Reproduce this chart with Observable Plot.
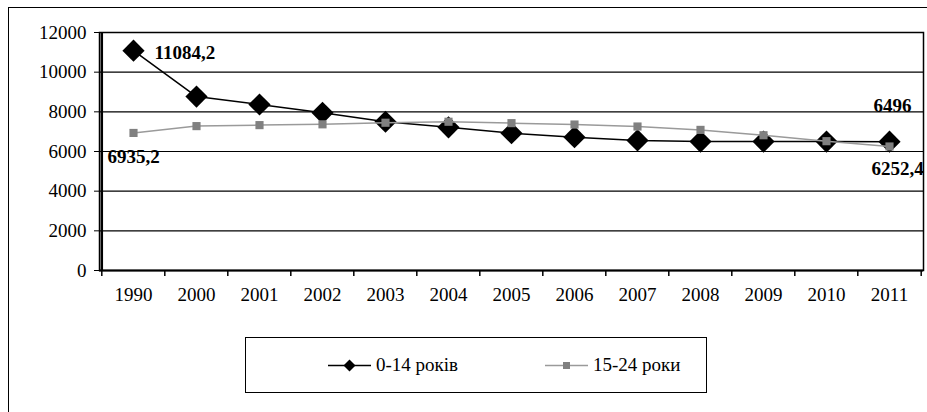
<!DOCTYPE html>
<html>
<head>
<meta charset="utf-8">
<script src="https://cdn.jsdelivr.net/npm/d3@7"></script>
<script src="https://cdn.jsdelivr.net/npm/@observablehq/plot@0.6"></script>
<style>
  html, body { margin: 0; padding: 0; background: #fff; overflow: hidden; }
  #wrap { position: relative; width: 927px; height: 412px; overflow: hidden; font-family: "Liberation Serif", "Times New Roman", serif; }
  #outer { position: absolute; left: 8px; top: 7px; width: 940px; height: 420px; border: 1.5px solid #000; box-sizing: border-box; }
  #chart { position: absolute; left: 0; top: 0; }
  #legend { position: absolute; left: 245px; top: 337px; width: 462px; height: 56px; border: 1.5px solid #000; box-sizing: border-box; }
  .item { position: absolute; top: 0; height: 100%; display: flex; align-items: center; font-size: 19px; color: #000; }
  .item svg { margin-right: 4px; }
</style>
</head>
<body>
<div id="wrap">
  <div id="outer"></div>
  <div id="chart"></div>
  <div id="legend"></div>
</div>
<script>
// ---- data ----
const years = ["1990","2000","2001","2002","2003","2004","2005","2006","2007","2008","2009","2010","2011"];
const kids  = [11084.2, 8770, 8370, 7950, 7500, 7220, 6920, 6720, 6560, 6500, 6500, 6500, 6496];
const youth = [6935.2, 7280, 7330, 7370, 7450, 7500, 7430, 7360, 7260, 7090, 6820, 6520, 6252.4];
const yTicks = [0, 2000, 4000, 6000, 8000, 10000, 12000];
const seriesNames = ["0-14 років", "15-24 роки"];

const fmt = v => String(v).replace(".", ",");
const kidsData  = years.map((y, i) => ({year: y, value: kids[i]}));
const youthData = years.map((y, i) => ({year: y, value: youth[i]}));

const W = 927, mL = 99, mR = 4;
const step = (W - mL - mR) / years.length;

const boldText = {fontWeight: "bold", fontSize: 19, fill: "black"};

const chart = Plot.plot({
  width: W,
  height: 310,
  marginLeft: mL,
  marginRight: mR,
  marginTop: 32,
  marginBottom: 40,
  style: {fontFamily: '"Liberation Serif", "Times New Roman", serif', fontSize: "19px", color: "black", background: "transparent", overflow: "visible"},
  x: {type: "point", domain: years, padding: 0.5, label: null},
  y: {domain: [0, 12000], label: null},
  marks: [
    Plot.ruleY(yTicks, {stroke: "black", strokeWidth: 1.2}),
    Plot.frame({stroke: "black", strokeWidth: 1.5}),
    Plot.ruleY([0], {stroke: "black", strokeWidth: 2}),
    Plot.ruleX(years, {x: d => d, y1: 0, y2: -300, dx: -step / 2, stroke: "black", strokeWidth: 1.5}),
    Plot.ruleX([years[years.length - 1]], {x: d => d, y1: 0, y2: -300, dx: step / 2, stroke: "black", strokeWidth: 1.5}),
    Plot.ruleX([years[0]], {x: d => d, y1: 0, y2: 12000, dx: -step / 2, stroke: "black", strokeWidth: 2.5}),
    Plot.axisY({ticks: yTicks, tickSize: 5, tickPadding: 8, tickFormat: d => String(d), fontSize: 19}),
    Plot.axisX({tickSize: 0, tickPadding: 17, fontSize: 19}),
    Plot.line(kidsData, {x: "year", y: "value", stroke: "black", strokeWidth: 1.5}),
    Plot.dot(kidsData, {x: "year", y: "value", symbol: "diamond2", r: 10, fill: "black", stroke: "none"}),
    Plot.line(youthData, {x: "year", y: "value", stroke: "#9a9a9a", strokeWidth: 1.5}),
    Plot.dot(youthData, {x: "year", y: "value", symbol: "square", r: 4.6, fill: "#808080", stroke: "none"}),
    Plot.text([kidsData[0]], {x: "year", y: "value", text: d => fmt(d.value), textAnchor: "start", dx: 21, dy: 2, ...boldText}),
    Plot.text([youthData[0]], {x: "year", y: "value", text: d => fmt(d.value), textAnchor: "middle", dx: 0, dy: 24, ...boldText}),
    Plot.text([kidsData[12]], {x: "year", y: "value", text: d => fmt(d.value), textAnchor: "middle", dx: 3, dy: -36, ...boldText}),
    Plot.text([youthData[12]], {x: "year", y: "value", text: d => fmt(d.value), textAnchor: "middle", dx: 8, dy: 22, ...boldText})
  ]
});
document.getElementById("chart").appendChild(chart);

// ---- legend ----
const legend = document.getElementById("legend");
function legendItem(left, name, color, lineColor, symbol) {
  const div = document.createElement("div");
  div.className = "item";
  div.style.left = left + "px";
  const shape = symbol === "diamond"
    ? `<path d="M21.5,1.5 L27.5,7.5 L21.5,13.5 L15.5,7.5 Z" fill="${color}"/>`
    : `<rect x="18" y="4" width="7" height="7" fill="${color}"/>`;
  div.innerHTML = `<svg width="44" height="15"><line x1="0" y1="7.5" x2="43" y2="7.5" stroke="${lineColor}" stroke-width="1.5"/>${shape}</svg><span>${name}</span>`;
  legend.appendChild(div);
}
legendItem(82, seriesNames[0], "black", "black", "diamond");
legendItem(299, seriesNames[1], "#808080", "#9a9a9a", "square");
</script>
</body>
</html>
